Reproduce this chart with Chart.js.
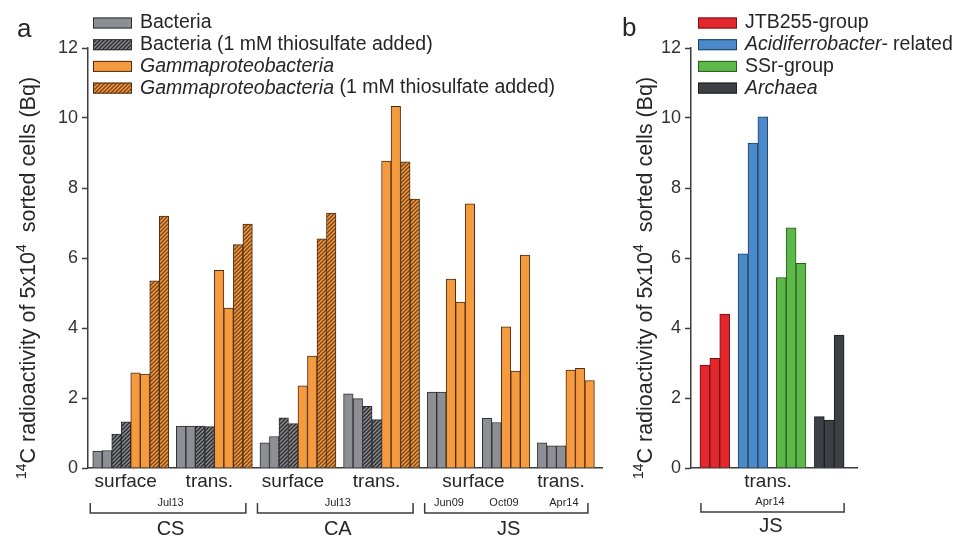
<!DOCTYPE html>
<html>
<head>
<meta charset="utf-8">
<script src="https://cdn.jsdelivr.net/npm/chart.js@4.4.0/dist/chart.umd.min.js"></script>
<style>
  body { margin: 0; background: #fff; }
  #wrap { position: relative; width: 956px; height: 537px; }
  canvas { position: absolute; top: 0; }
  #chartA { left: 0; }
  #chartB { left: 620px; }
</style>
</head>
<body>
<div id="wrap">
  <canvas id="chartA" width="620" height="537"></canvas>
  <canvas id="chartB" width="336" height="537"></canvas>
</div>
<script>
// ---- panel a: one inner array per sample group (CS surf, CS trans, CA surf, CA trans, JS Jun09, JS Oct09, JS Apr14)
const bacteria     = [[0.48, 0.50], [1.20, 1.20], [0.72, 0.90], [2.12, 1.98], [2.17, 2.17], [1.42, 1.30], [0.72, 0.63, 0.63]];
const bacteriaThio = [[0.97, 1.32], [1.20, 1.18], [1.43, 1.27], [1.76, 1.38], [], [], []];
const gamma        = [[2.72, 2.68], [5.65, 4.57], [2.35, 3.20], [8.77, 10.33], [5.40, 4.74, 7.55], [4.03, 2.77, 6.08], [2.80, 2.85, 2.50]];
const gammaThio    = [[5.35, 7.20], [6.38, 6.97], [6.55, 7.28], [8.75, 7.68], [], [], []];

const seriesA = ['Bacteria', 'Bacteria (1 mM thiosulfate added)', 'Gammaproteobacteria', 'Gammaproteobacteria (1 mM thiosulfate added)'];
const italicA = ['', '', 'Gammaproteobacteria', 'Gammaproteobacteria'];

const conditionLabelsA = ['surface', 'trans.', 'surface', 'trans.', 'surface', 'trans.'];
const conditionSpansA  = [[0, 0], [1, 1], [2, 2], [3, 3], [4, 5], [6, 6]];
const dateLabelsA      = ['Jul13', 'Jul13', 'Jun09', 'Oct09', 'Apr14'];
const dateSpansA       = [[0, 1], [2, 3], [4, 4], [5, 5], [6, 6]];
const siteLabelsA      = ['CS', 'CA', 'JS'];
const siteSpansA       = [[0, 1], [2, 3], [4, 6]];

// ---- panel b: JS, trans., Apr14
const jtb255   = [2.94, 3.13, 4.40];
const acidiferrobacter = [6.12, 9.28, 10.03];
const ssrGroup = [5.44, 6.86, 5.85];
const archaea  = [1.47, 1.37, 3.80];

const seriesB = ['JTB255-group', 'Acidiferrobacter- related', 'SSr-group', 'Archaea'];
const italicB = ['', 'Acidiferrobacter-', '', 'Archaea'];

const yTicks = [0, 2, 4, 6, 8, 10, 12];

const AXIS = '#3c3c3c';
const TEXT = '#262626';
const SANS = '"Liberation Sans", Arial, sans-serif';

// lay bars out left to right: series order inside each group, a gap between groups
function layoutGroups(seriesLists, gap) {
  const points = seriesLists.map(() => []);
  const spans = [];
  let x = 0;
  const nGroups = seriesLists[0].length;
  for (let g = 0; g < nGroups; g++) {
    const start = x;
    seriesLists.forEach((s, si) => {
      s[g].forEach(v => { points[si].push({ x: x + 0.5, y: v }); x += 1; });
    });
    spans.push([start, x]);
    x += gap;
  }
  return { points, spans, end: x - gap };
}

function hatch(ctx, bg, line) {
  const c = document.createElement('canvas');
  c.width = c.height = 4;
  const g = c.getContext('2d');
  g.fillStyle = bg;
  g.fillRect(0, 0, 4, 4);
  g.strokeStyle = line;
  g.lineWidth = 1.3;
  g.beginPath();
  g.moveTo(-1, 5); g.lineTo(5, -1);
  g.moveTo(-1, 1); g.lineTo(1, -1);
  g.moveTo(3, 5); g.lineTo(5, 3);
  g.stroke();
  return ctx.createPattern(c, 'repeat');
}

// legend drawn by hand so part of a label can be italic
const swatchLegend = {
  id: 'swatchLegend',
  afterDraw(chart, args, opts) {
    const { ctx } = chart;
    ctx.save();
    ctx.textBaseline = 'middle';
    chart.data.datasets.forEach((ds, i) => {
      const y = opts.top + i * opts.rowGap;
      ctx.fillStyle = ds.backgroundColor;
      ctx.fillRect(opts.x, y - 5.5, 39, 11);
      ctx.strokeStyle = ds.borderColor;
      ctx.lineWidth = 1;
      ctx.strokeRect(opts.x + 0.5, y - 5, 38, 10);
      let tx = opts.x + 47;
      const it = opts.italic[i];
      const rest = ds.label.slice(it.length);
      ctx.fillStyle = TEXT;
      if (it) {
        ctx.font = 'italic 19.5px ' + SANS;
        ctx.fillText(it, tx, y);
        tx += ctx.measureText(it).width;
      }
      ctx.font = '19.5px ' + SANS;
      ctx.fillText(rest, tx, y);
    });
    ctx.restore();
  }
};

// sample labels, dates and brackets under the x axis
const axisNotes = {
  id: 'axisNotes',
  afterDraw(chart, args, opts) {
    const { ctx } = chart;
    const xs = chart.scales.x;
    const spans = opts.spans;
    const left = g => xs.getPixelForValue(spans[g][0]);
    const right = g => xs.getPixelForValue(spans[g][1]);
    const mid = s => (left(s[0]) + right(s[1])) / 2;
    ctx.save();
    ctx.fillStyle = TEXT;
    ctx.textAlign = 'center';
    ctx.textBaseline = 'middle';
    ctx.font = '19px ' + SANS;
    opts.conditions.forEach((t, i) => ctx.fillText(t, mid(opts.conditionSpans[i]) + opts.conditionShift, opts.conditionY));
    ctx.font = '11px ' + SANS;
    opts.dates.forEach((t, i) => ctx.fillText(t, mid(opts.dateSpans[i]) + opts.dateShift, opts.dateY));
    ctx.font = '20px ' + SANS;
    ctx.strokeStyle = AXIS;
    ctx.lineWidth = 1.5;
    opts.sites.forEach((t, i) => {
      const s = opts.siteSpans[i];
      const x0 = left(s[0]) + opts.bracketLeft;
      const x1 = right(s[1]) + opts.bracketRight;
      ctx.beginPath();
      ctx.moveTo(x0, opts.bracketTip);
      ctx.lineTo(x0, opts.bracketY);
      ctx.lineTo(x1, opts.bracketY);
      ctx.lineTo(x1, opts.bracketTip);
      ctx.stroke();
      ctx.fillText(t, mid(s) + opts.siteShift, opts.siteY);
    });
    ctx.restore();
  }
};

// rotated y title with superscripts, plus the panel letter
const yTitle = {
  id: 'yTitle',
  afterDraw(chart, args, opts) {
    const { ctx } = chart;
    const parts = [['14', true], ['C radioactivity of 5x10', false], ['4', true], ['  sorted cells (Bq)', false]];
    const big = '21.5px ' + SANS, small = '14px ' + SANS;
    ctx.save();
    ctx.fillStyle = TEXT;
    ctx.textBaseline = 'middle';
    let total = 0;
    parts.forEach(([t, sup]) => { ctx.font = sup ? small : big; total += ctx.measureText(t).width; });
    ctx.translate(opts.cx, opts.cy);
    ctx.rotate(-Math.PI / 2);
    let x = -total / 2;
    parts.forEach(([t, sup]) => {
      ctx.font = sup ? small : big;
      ctx.fillText(t, x, sup ? -7 : 0);
      x += ctx.measureText(t).width;
    });
    ctx.restore();
    ctx.save();
    ctx.fillStyle = TEXT;
    ctx.font = '26px ' + SANS;
    ctx.textBaseline = 'alphabetic';
    ctx.fillText(opts.letter, opts.letterX, opts.letterY);
    ctx.restore();
  }
};

function yScale(width) {
  return {
    min: 0, max: 12,
    afterBuildTicks: s => { s.ticks = yTicks.map(v => ({ value: v })); },
    ticks: { padding: 4, color: '#333', font: { family: SANS, size: 18 } },
    grid: { drawOnChartArea: false, tickLength: 6, tickColor: AXIS, tickWidth: 1.5 },
    border: { color: AXIS, width: 1.5 },
    afterFit: s => { s.width = width; }
  };
}

function xScale(min, max) {
  return {
    type: 'linear', min, max, offset: false,
    ticks: { display: false },
    grid: { display: false },
    border: { color: AXIS, width: 1.5 },
    afterFit: s => { s.height = 69; }
  };
}

const commonOpts = {
  responsive: false,
  animation: false,
  datasets: { bar: { grouped: false, barPercentage: 1, categoryPercentage: 1, borderWidth: 1 } }
};

// ---- panel a
const ctxA = document.getElementById('chartA').getContext('2d');
const layoutA = layoutGroups([bacteria, bacteriaThio, gamma, gammaThio], 0.8);
const GRAY = '#8e8f94', GRAY_EDGE = '#2e2e30';
const ORANGE = '#f69a3f', ORANGE_EDGE = '#4a2d12';

new Chart(ctxA, {
  type: 'bar',
  data: {
    datasets: [
      { label: seriesA[0], data: layoutA.points[0], backgroundColor: GRAY, borderColor: GRAY_EDGE },
      { label: seriesA[1], data: layoutA.points[1], backgroundColor: hatch(ctxA, '#8a8b90', '#2a2a2c'), borderColor: GRAY_EDGE },
      { label: seriesA[2], data: layoutA.points[2], backgroundColor: ORANGE, borderColor: ORANGE_EDGE },
      { label: seriesA[3], data: layoutA.points[3], backgroundColor: hatch(ctxA, '#f29a45', '#7a4414'), borderColor: ORANGE_EDGE }
    ]
  },
  options: {
    ...commonOpts,
    layout: { padding: { top: 48, right: 18, left: 0, bottom: 0 } },
    scales: { x: xScale(-0.5, layoutA.end + 0.8), y: yScale(88) },
    plugins: {
      legend: { display: false },
      tooltip: { enabled: false },
      swatchLegend: { x: 93, top: 23, rowGap: 21.7, italic: italicA },
      axisNotes: {
        spans: layoutA.spans,
        conditions: conditionLabelsA, conditionSpans: conditionSpansA, conditionY: 482, conditionShift: -5,
        dates: dateLabelsA, dateSpans: dateSpansA, dateY: 503, dateShift: -2,
        sites: siteLabelsA, siteSpans: siteSpansA, siteY: 529, siteShift: -2,
        bracketY: 513, bracketTip: 503, bracketLeft: -2.5, bracketRight: -6.5
      },
      yTitle: { cx: 29, cy: 278, letter: 'a', letterX: 17, letterY: 37 }
    }
  },
  plugins: [swatchLegend, axisNotes, yTitle]
});

// ---- panel b
const ctxB = document.getElementById('chartB').getContext('2d');
const layoutB = layoutGroups([[jtb255, [], [], []], [[], acidiferrobacter, [], []], [[], [], ssrGroup, []], [[], [], [], archaea]], 0.85);

new Chart(ctxB, {
  type: 'bar',
  data: {
    datasets: [
      { label: seriesB[0], data: layoutB.points[0], backgroundColor: '#e4272d', borderColor: '#6e1214' },
      { label: seriesB[1], data: layoutB.points[1], backgroundColor: '#4c89c9', borderColor: '#1f3f66' },
      { label: seriesB[2], data: layoutB.points[2], backgroundColor: '#5cb849', borderColor: '#2a5a20' },
      { label: seriesB[3], data: layoutB.points[3], backgroundColor: '#3d4044', borderColor: '#1e1f21' }
    ]
  },
  options: {
    ...commonOpts,
    layout: { padding: { top: 48, right: 99, left: 0, bottom: 0 } },
    scales: { x: xScale(-0.9, layoutB.end + 1.3), y: yScale(71) },
    plugins: {
      legend: { display: false },
      tooltip: { enabled: false },
      swatchLegend: { x: 78, top: 23, rowGap: 21.7, italic: italicB },
      axisNotes: {
        spans: layoutB.spans,
        conditions: ['trans.'], conditionSpans: [[0, 3]], conditionY: 482, conditionShift: -4,
        dates: ['Apr14'], dateSpans: [[0, 3]], dateY: 502, dateShift: -2,
        sites: ['JS'], siteSpans: [[0, 3]], siteY: 526, siteShift: -1,
        bracketY: 512, bracketTip: 503, bracketLeft: 1, bracketRight: 0
      },
      yTitle: { cx: 26, cy: 278, letter: 'b', letterX: 2, letterY: 36 }
    }
  },
  plugins: [swatchLegend, axisNotes, yTitle]
});
</script>
</body>
</html>
